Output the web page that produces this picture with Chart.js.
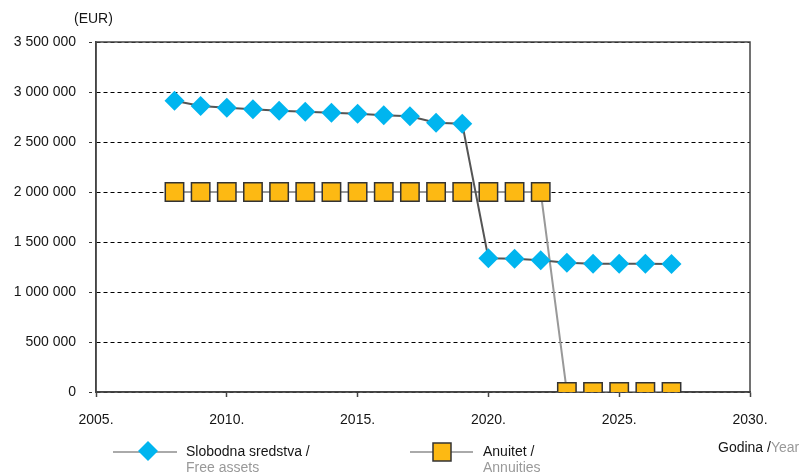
<!DOCTYPE html>
<html>
<head>
<meta charset="utf-8">
<title>Slobodna sredstva i anuitet</title>
<script src="https://cdn.jsdelivr.net/npm/chart.js@4/dist/chart.umd.min.js"></script>
<style>
  html, body { margin: 0; padding: 0; background: #fff; }
  #wrap { position: relative; width: 806px; height: 475px; }
</style>
</head>
<body>
<div id="wrap"><canvas id="chart" width="806" height="475"></canvas></div>
<script>
// godine i vrijednosti (EUR)
const years = [2008, 2009, 2010, 2011, 2012, 2013, 2014, 2015, 2016, 2017,
  2018, 2019, 2020, 2021, 2022, 2023, 2024, 2025, 2026, 2027];
const freeAssets = [2913000, 2860000, 2843000, 2827000, 2813000, 2803000, 2793000,
  2783000, 2767000, 2757000, 2693000, 2683000, 1337000, 1333000, 1317000, 1293000,
  1283000, 1283000, 1282000, 1280000];
const annuities = [2000000, 2000000, 2000000, 2000000, 2000000, 2000000, 2000000,
  2000000, 2000000, 2000000, 2000000, 2000000, 2000000, 2000000, 2000000, 0, 0, 0, 0, 0];
const xTicks = [2005, 2010, 2015, 2020, 2025, 2030];
const yTicks = [0, 500000, 1000000, 1500000, 2000000, 2500000, 3000000, 3500000];

const FONT = "'Liberation Sans', Arial, sans-serif";
const CYAN = "#00b5ef";
const GOLD = "#fdb913";
const INK = "#151515";

function fmt(v) {
  return String(v).replace(/\B(?=(\d{3})+(?!\d))/g, " ");
}

function toPoints(vals) {
  return years.map((y, i) => ({ x: y, y: vals[i] }));
}

// okvir, naslov osi i legenda
const extras = {
  id: "extras",
  beforeDatasetsDraw(chart) {
    const { ctx, chartArea: a } = chart;
    ctx.save();
    ctx.strokeStyle = "#444";
    ctx.lineWidth = 1.5;
    ctx.strokeRect(a.left, a.top, a.right - a.left, a.bottom - a.top);
    ctx.restore();
  },
  afterDraw(chart) {
    const ctx = chart.ctx;
    ctx.save();
    ctx.font = "14px " + FONT;
    ctx.textBaseline = "middle";
    ctx.fillStyle = INK;
    ctx.fillText("(EUR)", 74, 19);

    // legenda
    function sample(x0, x1, y) {
      ctx.strokeStyle = "#aaa";
      ctx.lineWidth = 2;
      ctx.beginPath();
      ctx.moveTo(x0, y);
      ctx.lineTo(x1, y);
      ctx.stroke();
    }
    sample(113, 177, 452);
    ctx.fillStyle = CYAN;
    ctx.beginPath();
    ctx.moveTo(148 - 10, 451);
    ctx.lineTo(148, 441);
    ctx.lineTo(148 + 10, 451);
    ctx.lineTo(148, 461);
    ctx.closePath();
    ctx.fill();

    sample(410, 473, 452);
    ctx.fillStyle = GOLD;
    ctx.strokeStyle = "#333";
    ctx.lineWidth = 1.5;
    ctx.fillRect(433, 443, 18, 18);
    ctx.strokeRect(433, 443, 18, 18);

    ctx.fillStyle = INK;
    ctx.fillText("Slobodna sredstva /", 186, 452);
    ctx.fillText("Anuitet /", 483, 452);
    ctx.fillText("Godina /", 718, 448);
    const w = ctx.measureText("Godina /").width;
    ctx.fillStyle = "#999";
    ctx.fillText("Year", 718 + w, 448);
    ctx.fillText("Free assets", 186, 468);
    ctx.fillText("Annuities", 483, 468);
    ctx.restore();
  }
};

new Chart(document.getElementById("chart"), {
  type: "line",
  data: {
    datasets: [
      {
        label: "Slobodna sredstva / Free assets",
        data: toPoints(freeAssets),
        borderColor: "#555",
        borderWidth: 2,
        pointStyle: "rectRot",
        pointRadius: 10,
        pointBackgroundColor: CYAN,
        pointBorderWidth: 0,
        tension: 0
      },
      {
        label: "Anuitet / Annuities",
        data: toPoints(annuities),
        borderColor: "#999",
        borderWidth: 2,
        pointStyle: "rect",
        pointRadius: 13,
        pointBackgroundColor: GOLD,
        pointBorderColor: "#333",
        pointBorderWidth: 1.5,
        tension: 0
      }
    ]
  },
  options: {
    responsive: false,
    animation: false,
    events: [],
    layout: { padding: { top: 42, right: 56, bottom: 0, left: 0 } },
    plugins: { legend: { display: false }, tooltip: { enabled: false } },
    scales: {
      x: {
        type: "linear",
        min: 2005,
        max: 2030,
        afterBuildTicks: (s) => { s.ticks = xTicks.map((v) => ({ value: v })); },
        afterFit: (s) => { s.height = 83; },
        grid: { drawOnChartArea: false, tickLength: 5, tickColor: "#444", tickWidth: 1.5 },
        border: { color: "#444", width: 1.5 },
        ticks: {
          padding: 15,
          color: INK,
          font: { family: FONT, size: 14 },
          callback: (v) => v + "."
        }
      },
      y: {
        min: 0,
        max: 3500000,
        afterBuildTicks: (s) => { s.ticks = yTicks.map((v) => ({ value: v })); },
        afterFit: (s) => { s.width = 96; },
        grid: {
          color: "#000",
          lineWidth: 1,
          tickLength: 7,
          tickColor: "#333",
          tickBorderDash: [3, 20]
        },
        // v4: border.dash crta isprekidane linije mreže
        border: { color: "#444", width: 1.5, dash: [4, 3] },
        ticks: {
          padding: 13,
          color: INK,
          font: { family: FONT, size: 14 },
          callback: (v) => fmt(v)
        }
      }
    }
  },
  plugins: [extras]
});
</script>
</body>
</html>
